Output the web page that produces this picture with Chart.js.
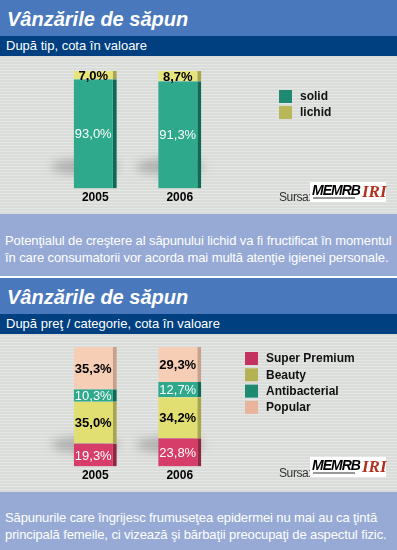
<!DOCTYPE html>
<html>
<head>
<meta charset="utf-8">
<script src="https://cdn.jsdelivr.net/npm/chart.js@4"></script>
<style>
body { margin: 0; background: #fff; font-family: Arial, "Liberation Sans", sans-serif; }
#wrap { width: 397px; }
.title { height: 36px; background: #4a78bd; color: #fff; font: italic bold 20px Arial, "Liberation Sans", sans-serif; line-height: 38px; padding-left: 7px; }
.sub { height: 20px; background: #003f80; color: #fff; font-size: 13px; line-height: 20px; padding-left: 6px; }
.chartbox { position: relative; height: 158px;
  background: repeating-linear-gradient(180deg, #dadcda 0px, #dadcda 2px, #e5e7e5 2px, #e5e7e5 3px); }
.chartbox canvas { position: absolute; left: 0; top: 0; }
.note { background: #97aad5; color: #fff; font-size: 13px; line-height: 17px; padding-left: 5px; white-space: nowrap; letter-spacing: -0.1px; box-sizing: border-box; }
.gap { height: 2px; background: #fff; }
.sursa { position: absolute; left: 279px; font-size: 12px; letter-spacing: -0.4px; color: #333; }
.logo { position: absolute; left: 310px; width: 76px; height: 20px; background: #fff; }
.logo .m { position: absolute; left: 2px; top: 0; font: italic bold 14px Arial, sans-serif; color: #000; letter-spacing: -1px; }
.logo .l { position: absolute; left: 3px; top: 15px; width: 42px; height: 2px; background: #999; }
.logo .i { position: absolute; left: 52px; top: 0; font: italic bold 17px "Liberation Serif", serif; color: #b3301c; }
</style>
</head>
<body>
<div id="wrap">
  <div class="title">Vânzările de săpun</div>
  <div class="sub">După tip, cota în valoare</div>
  <div class="chartbox">
    <canvas id="chartTip" width="397" height="158"></canvas>
    <div class="sursa" style="top:134px">Sursa:</div>
    <div class="logo" style="top:126px"><span class="m">MEMRB</span><span class="l"></span><span class="i">IRI</span></div>
  </div>
  <div class="note" style="height:62px; padding-top:18px">Potenţialul de creştere al săpunului lichid va fi fructificat în momentul<br>în care consumatorii vor acorda mai multă atenţie igienei personale.</div>
  <div class="gap"></div>
  <div class="title">Vânzările de săpun</div>
  <div class="sub">După preţ / categorie, cota în valoare</div>
  <div class="chartbox">
    <canvas id="chartPret" width="397" height="158"></canvas>
    <div class="sursa" style="top:132px">Sursa:</div>
    <div class="logo" style="top:123px"><span class="m">MEMRB</span><span class="l"></span><span class="i">IRI</span></div>
  </div>
  <div class="note" style="height:58px; padding-top:17px">Săpunurile care îngrijesc frumuseţea epidermei nu mai au ca ţintă<br>principală femeile, ci vizează şi bărbaţii preocupaţi de aspectul fizic.</div>
</div>

<script>
const years = ['2005', '2006'];

// cota in valoare, dupa tip (%)
const solid = [93.0, 91.3];
const lichid = [7.0, 8.7];

// cota in valoare, dupa pret / categorie (%)
const superPremium = [19.3, 23.8];
const beauty = [35.0, 34.2];
const antibacterial = [10.3, 12.7];
const popular = [35.3, 29.3];

function pct(v) {
    return v.toFixed(1).replace('.', ',') + '%';
}

// shadow behind bars, value labels and the legend on the right
const decorPlugin = {
    id: 'decor',
    beforeDatasetsDraw(chart) {
        const ctx = chart.ctx;
        const meta = chart.getDatasetMeta(0);
        ctx.save();
        ctx.filter = 'blur(5px)';
        ctx.fillStyle = 'rgba(90,90,90,0.35)';
        meta.data.forEach(bar => {
            const p = bar.getProps(['x', 'base'], true);
            ctx.beginPath();
            ctx.ellipse(p.x - 10, p.base - 22, 34, 8, 0, 0, Math.PI * 2);
            ctx.fill();
        });
        ctx.restore();
    },
    afterDatasetsDraw(chart) {
        const ctx = chart.ctx;
        ctx.save();
        ctx.textAlign = 'center';
        ctx.textBaseline = 'middle';
        chart.data.datasets.forEach((ds, i) => {
            const meta = chart.getDatasetMeta(i);
            ctx.font = (ds.labelColor === '#000' ? 'bold ' : '') + '13px Arial, "Liberation Sans", sans-serif';
            meta.data.forEach((bar, j) => {
                const p = bar.getProps(['x', 'y', 'base'], true);
                ctx.fillStyle = ds.labelColor;
                ctx.fillText(pct(ds.data[j]), p.x - 2, (p.y + p.base) / 2 + 1);
            });
        });
        ctx.restore();
    },
    afterDraw(chart) {
        const opts = chart.options.plugins.decor;
        const ctx = chart.ctx;
        ctx.save();
        ctx.font = 'bold 12px Arial, "Liberation Sans", sans-serif';
        ctx.textBaseline = 'middle';
        chart.data.datasets.forEach((ds, i) => {
            const y = opts.y + i * opts.step;
            ctx.fillStyle = ds.legendColor;
            ctx.fillRect(opts.x, y, 13, 13);
            ctx.fillStyle = '#111';
            ctx.fillText(ds.label, opts.x + 21, y + 7);
        });
        ctx.restore();
    }
};

function makeChart(id, datasets, padTop, legend) {
    return new Chart(document.getElementById(id), {
        type: 'bar',
        data: {
            labels: years,
            datasets: datasets.map(d => ({
                label: d.label,
                data: d.data,
                backgroundColor: d.color,
                borderColor: d.side,
                borderWidth: { top: 0, right: 4, bottom: 0, left: 0 },
                borderSkipped: false,
                legendColor: d.legend,
                labelColor: d.text,
                barPercentage: 1,
                categoryPercentage: 0.51
            }))
        },
        options: {
            responsive: false,
            animation: false,
            layout: { padding: { top: padTop, left: 53, right: 175, bottom: 7 } },
            scales: {
                x: {
                    stacked: true,
                    grid: { display: false, drawTicks: false },
                    border: { display: false },
                    ticks: { color: '#000', padding: 2, font: { family: 'Arial', size: 12, weight: 'bold' } }
                },
                y: { stacked: true, display: false, min: 0, max: 100 }
            },
            plugins: {
                legend: { display: false },
                tooltip: { enabled: false },
                decor: legend
            }
        },
        plugins: [decorPlugin]
    });
}

makeChart('chartTip', [
    { label: 'solid', data: solid, color: '#2ea98c', side: '#0f6a55', legend: '#1f8a72', text: '#fff' },
    { label: 'lichid', data: lichid, color: '#e8e47c', side: '#a9a64a', legend: '#b9b757', text: '#000' }
], 15, { x: 279, y: 34, step: 16 });

makeChart('chartPret', [
    { label: 'Super Premium', data: superPremium, color: '#d63d68', side: '#922540', legend: '#c43360', text: '#fff' },
    { label: 'Beauty', data: beauty, color: '#e2df72', side: '#a9a64a', legend: '#b5b254', text: '#000' },
    { label: 'Antibacterial', data: antibacterial, color: '#2ea98c', side: '#0f6a55', legend: '#1f8a72', text: '#fff' },
    { label: 'Popular', data: popular, color: '#f6cdb5', side: '#c9a08a', legend: '#e9b39e', text: '#000' }
], 13, { x: 245, y: 18, step: 16.3 });
</script>
</body>
</html>
